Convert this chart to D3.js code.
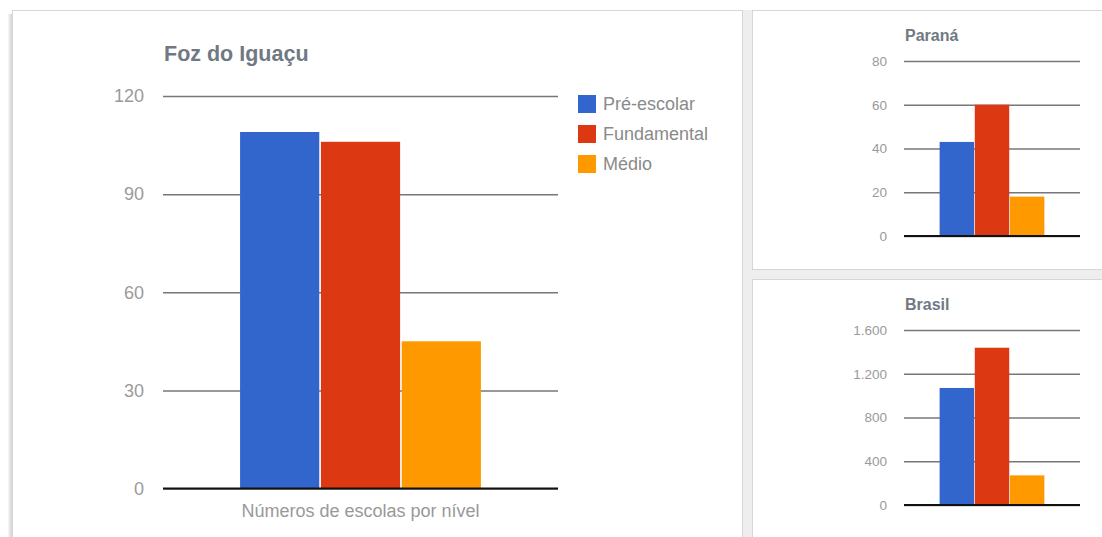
<!DOCTYPE html>
<html>
<head>
<meta charset="utf-8">
<script src="https://cdn.jsdelivr.net/npm/d3@7"></script>
<style>
  html, body { margin: 0; padding: 0; background: #ffffff; }
  svg { display: block; font-family: "Liberation Sans", Arial, sans-serif; }
</style>
</head>
<body>
<svg id="dash" width="1102" height="537"></svg>
<script>
// Number of schools per education level
const categories = ["Números de escolas por nível"];
const seriesNames = ["Pré-escolar", "Fundamental", "Médio"];
const seriesColors = ["#3366cc", "#dc3912", "#ff9900"];

const fozValues = [109, 106, 45];
const paranaValues = [43, 60, 18];
const brasilValues = [1070, 1438, 271];

const fozTicks = [0, 30, 60, 90, 120];
const paranaTicks = [0, 20, 40, 60, 80];
const brasilTicks = [0, 400, 800, 1200, 1600];

// Brazilian number format: dot as thousands separator
const ptBR = d3.formatLocale({ decimal: ",", thousands: ".", grouping: [3], currency: ["R$", ""] });
const fmt = ptBR.format(",d");

const svg = d3.select("#dash");

// ---- dashboard cards ----
const cards = svg.append("g");
// gutters between cards
cards.append("rect").attr("x", 743).attr("y", 10).attr("width", 10).attr("height", 527).attr("fill", "#eeeeee");
cards.append("rect").attr("x", 753).attr("y", 270).attr("width", 349).attr("height", 9).attr("fill", "#eeeeee");
// main card shadow
[[8, "#f3f3f3"], [9, "#e9e9e9"], [10, "#e0e0e0"], [11, "#d6d6d6"]].forEach(([x, c]) => {
  cards.append("line").attr("x1", x + 0.5).attr("x2", x + 0.5).attr("y1", 14).attr("y2", 537)
    .attr("stroke", c);
});
// card outlines
cards.append("rect").attr("x", 12.5).attr("y", 10.5).attr("width", 730).attr("height", 540)
  .attr("fill", "#fff").attr("stroke", "#d6d6d6");
cards.append("rect").attr("x", 752.5).attr("y", 10.5).attr("width", 360).attr("height", 259)
  .attr("fill", "#fff").attr("stroke", "#d6d6d6");
cards.append("rect").attr("x", 752.5).attr("y", 279.5).attr("width", 360).attr("height", 270)
  .attr("fill", "#fff").attr("stroke", "#d6d6d6");

function drawChart(opt) {
  const g = svg.append("g");
  const y = d3.scaleLinear().domain([0, d3.max(opt.ticks)]).range([opt.bottom, opt.top]);
  const x0 = d3.scaleBand().domain(categories).range([opt.left, opt.right]).paddingOuter(opt.outer).paddingInner(0);
  const x1 = d3.scaleBand().domain(seriesNames).range([0, x0.bandwidth()]).paddingInner(0.02);

  // title
  g.append("text").attr("x", opt.left + 1).attr("y", opt.titleY)
    .attr("font-size", opt.titleSize).attr("font-weight", "bold").attr("fill", "#707983")
    .text(opt.title);

  // gridlines + tick labels
  const axis = d3.axisLeft(y).tickValues(opt.ticks).tickFormat(fmt)
    .tickSize(-(opt.right - opt.left)).tickPadding(opt.tickPad);
  const ax = g.append("g").attr("transform", `translate(${opt.left},0)`).call(axis);
  ax.select(".domain").remove();
  ax.selectAll(".tick line").attr("stroke", "#777777").attr("stroke-width", 1.5);
  ax.selectAll(".tick text").attr("fill", "#9a9a9a").attr("font-size", opt.tickSize)
    .attr("font-family", "Liberation Sans, Arial, sans-serif");

  // bars
  const grp = g.append("g").selectAll("g").data(categories).join("g")
    .attr("transform", d => `translate(${x0(d)},0)`);
  grp.selectAll("rect").data(opt.values.map((v, i) => ({ name: seriesNames[i], value: v, color: seriesColors[i] })))
    .join("rect")
    .attr("x", d => x1(d.name))
    .attr("width", x1.bandwidth())
    .attr("y", d => y(d.value))
    .attr("height", d => y(0) - y(d.value))
    .attr("fill", d => d.color);

  // baseline
  g.append("line").attr("x1", opt.left).attr("x2", opt.right)
    .attr("y1", y(0)).attr("y2", y(0)).attr("stroke", "#111").attr("stroke-width", 2);

  if (opt.xLabel) {
    g.append("text").attr("x", x0(categories[0]) + x0.bandwidth() / 2).attr("y", opt.bottom + 28)
      .attr("text-anchor", "middle").attr("font-size", 18).attr("fill", "#999999")
      .text(categories[0]);
  }

  if (opt.legend) {
    const lg = g.append("g").selectAll("g").data(seriesNames).join("g")
      .attr("transform", (d, i) => `translate(${opt.legend.x},${opt.legend.y + i * 30})`);
    lg.append("rect").attr("x", 0).attr("y", -8).attr("width", 18).attr("height", 18)
      .attr("fill", (d, i) => seriesColors[i]);
    lg.append("text").attr("x", 25).attr("y", 7).attr("font-size", 18).attr("fill", "#8a8a8a")
      .text(d => d);
  }
}

drawChart({
  title: "Foz do Iguaçu", titleY: 61, titleSize: 21.5,
  values: fozValues, ticks: fozTicks,
  left: 163, right: 558, top: 96, bottom: 488.5, outer: 0.32,
  tickPad: 19, tickSize: 18, xLabel: true,
  legend: { x: 578, y: 103 }
});

drawChart({
  title: "Paraná", titleY: 41, titleSize: 16,
  values: paranaValues, ticks: paranaTicks,
  left: 904, right: 1080, top: 61, bottom: 236, outer: 0.34,
  tickPad: 17, tickSize: 13.5
});

drawChart({
  title: "Brasil", titleY: 310, titleSize: 16,
  values: brasilValues, ticks: brasilTicks,
  left: 904, right: 1080, top: 330, bottom: 505, outer: 0.34,
  tickPad: 17, tickSize: 13.5
});
</script>
</body>
</html>
